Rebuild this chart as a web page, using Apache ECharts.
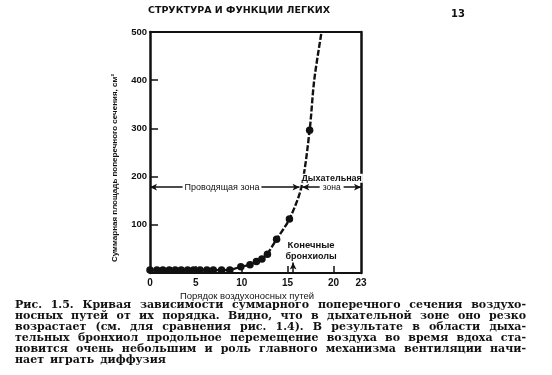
<!DOCTYPE html>
<html><head><meta charset="utf-8">
<script src="https://cdn.jsdelivr.net/npm/echarts@6/dist/echarts.min.js"></script>
<style>html,body{margin:0;padding:0;background:#fff}#c{width:552px;height:375px}</style>
</head><body><div id="c"></div>
<script>
// ---- data ----
const generations = [0,0.75,1.4,2.1,2.75,3.4,4.1,4.75,5.45,6.2,6.9,7.8,8.7,9.9,10.9,11.6,12.2,12.8,13.8,15.2,17.4];
const areas       = [6,6,6,6,6,6,6,6,6,6,6,6,6,13,17,24,29,39,70,112,296];
const solidCount  = 18; // points joined by the solid segment
const curveGen    = [12.8,13.8,15.2,16.5,17.4,17.9,18.7];
const curveArea   = [39,70,112,178,296,400,500];
const xTickValues = [0,5,10,15,20,23];
const xTickMarks  = [5,10,15,20];
const yTickValues = [100,200,300,400,500];
const yTickMarks  = [100,200,300,400];
const zoneLevel   = 178;
const conductingZone  = [0, 16.3];
const respiratoryZone = [16.6, 23];
const terminalBronchiole = 15.6;
const headerText = 'СТРУКТУРА И ФУНКЦИИ ЛЕГКИХ';
const pageNumber = '13';
const yTitle = 'Суммарная площадь поперечного сечения, см²';
const xTitle = 'Порядок воздухоносных путей';
const captionLines = [
  'Рис. 1.5. Кривая зависимости суммарного поперечного сечения воздухо-',
  'носных путей от их порядка. Видно, что в дыхательной зоне оно резко',
  'возрастает (см. для сравнения рис. 1.4). В результате в области дыха-',
  'тельных бронхиол продольное перемещение воздуха во время вдоха ста-',
  'новится очень небольшим и роль главного механизма вентиляции начи-',
  'нает играть диффузия'
];

const INK = '#111';
const SANS = 'Liberation Sans, Arial, sans-serif';
const chart = echarts.init(document.getElementById('c'));

const pts = generations.map((g,i)=>[g, areas[i]]);
const option = {
  animation:false,
  backgroundColor:'#fff',
  grid:{left:150,right:191,top:32,bottom:102},
  xAxis:[{
    type:'value',min:0,max:23,
    axisLine:{show:true,onZero:false,lineStyle:{color:INK,width:2}},
    axisTick:{show:true,inside:true,length:7,customValues:xTickMarks,lineStyle:{color:INK,width:1.5}},
    axisLabel:{customValues:xTickValues,color:INK,fontFamily:SANS,fontWeight:'bold',fontSize:10,margin:5},
    splitLine:{show:false}
  },{
    type:'value',position:'top',min:0,max:23,
    axisLine:{show:true,onZero:false,lineStyle:{color:INK,width:2}},
    axisTick:{show:false},axisLabel:{show:false},splitLine:{show:false}
  }],
  yAxis:[{
    type:'value',min:0,max:500,interval:100,
    axisLine:{show:true,onZero:false,lineStyle:{color:INK,width:2.5}},
    axisTick:{show:true,inside:true,length:8,customValues:yTickMarks,lineStyle:{color:INK,width:1.5}},
    axisLabel:{customValues:yTickValues,color:INK,fontFamily:SANS,fontWeight:'bold',fontSize:9.5,margin:3},
    splitLine:{show:false}
  },{
    type:'value',position:'right',min:0,max:500,
    axisLine:{show:true,onZero:false,lineStyle:{color:INK,width:2.5}},
    axisTick:{show:false},axisLabel:{show:false},splitLine:{show:false}
  }],
  series:[
    {type:'line',data:pts.slice(0,solidCount),showSymbol:false,symbol:'none',
     lineStyle:{color:INK,width:2.2},z:2},
    {type:'line',data:curveGen.map((g,i)=>[g,curveArea[i]]),symbol:'none',smooth:0.3,
     lineStyle:{color:INK,width:2.4,type:[6,2]},z:2},
    {type:'scatter',data:pts,symbol:'circle',symbolSize:7.5,itemStyle:{color:INK,opacity:1,borderWidth:0},z:3,
     markLine:{silent:true,symbol:['arrow','arrow'],symbolSize:[5,7],
       label:{show:false},
       lineStyle:{color:INK,width:1.5,type:'solid'},
       data:[
         [{coord:[conductingZone[0],zoneLevel]},{coord:[conductingZone[1],zoneLevel]}],
         [{coord:[respiratoryZone[0],zoneLevel]},{coord:[respiratoryZone[1],zoneLevel]}],
         [{coord:[terminalBronchiole,0],symbol:'none'},{coord:[terminalBronchiole,22],symbol:'arrow'}]
       ]}
    }
  ]
};
chart.setOption(option);

// ---- texts placed through the chart's own scales ----
const px = (x,y)=>chart.convertToPixel({gridIndex:0},[x,y]);
const g = [];
function txt(text,x,y,opt){
  g.push(Object.assign({type:'text',z:100,style:Object.assign({text,x,y,fill:INK,align:'center',verticalAlign:'middle',
    font:'9px '+SANS},opt||{})}));
}
// zones
let p = px((conductingZone[0]+conductingZone[1])/2 - 0.3, zoneLevel);
txt('Проводящая зона',p[0],p[1],{font:'9px '+SANS,backgroundColor:'#fff',padding:[1,2]});
p = px((respiratoryZone[0]+respiratoryZone[1])/2, zoneLevel);
txt('зона',p[0],p[1],{font:'8.5px '+SANS,backgroundColor:'#fff',padding:[1,3]});
txt('Дыхательная',p[0],p[1]-9,{font:'bold 9px '+SANS,backgroundColor:'#fff',padding:[0,1]});
// terminal bronchioles
p = px(terminalBronchiole,22);
txt('Конечные',p[0]+18,p[1]-17,{font:'bold 9.5px '+SANS});
txt('бронхиолы',p[0]+18,p[1]-6,{font:'bold 9px '+SANS});
// axis titles
g.push({type:'text',z:100,x:115,y:168,rotation:Math.PI/2,
  style:{text:yTitle,x:0,y:0,fill:INK,align:'center',verticalAlign:'middle',font:'bold 8px '+SANS}});
txt(xTitle,247,296,{font:'9.5px '+SANS});
// header
txt(headerText,239,11,{font:'bold 9.5px DejaVu Sans, sans-serif'});
txt(pageNumber,458,14,{font:'bold 10px DejaVu Sans, sans-serif'});

// caption, justified between 15 and 526
const CAP_FONT = 'bold 11px DejaVu Serif, serif';
const ctx = document.createElement('canvas').getContext('2d');
ctx.font = CAP_FONT;
const L = 15, R = 526, top0 = 305, lh = 11;
captionLines.forEach((line,li)=>{
  const words = line.split(' ');
  const ws = words.map(w=>ctx.measureText(w).width);
  const total = ws.reduce((a,b)=>a+b,0);
  const last = li===captionLines.length-1;
  const gap = last ? ctx.measureText(' ').width*1.6 : (R-L-total)/(words.length-1);
  let x = L;
  words.forEach((w,i)=>{
    g.push({type:'text',z:100,style:{text:w,x:x,y:top0+li*lh,fill:INK,align:'left',verticalAlign:'middle',font:CAP_FONT}});
    x += ws[i]+gap;
  });
});
chart.setOption({graphic:g});
</script>
</body></html>
